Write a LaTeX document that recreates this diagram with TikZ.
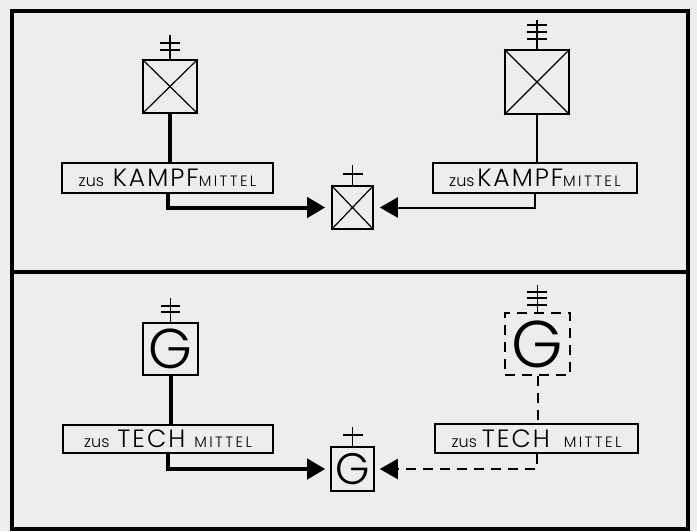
\documentclass[tikz,border=0pt]{standalone}
\usepackage{fontspec}
\setmainfont{Poppins Light}
\usetikzlibrary{arrows.meta}
\newcommand{\lblbig}[1]{{\fontsize{25}{25}\selectfont\addfontfeatures{LetterSpace=8}#1}}
\newcommand{\lblsmall}[1]{{\fontsize{15}{15}\selectfont\addfontfeatures{LetterSpace=16}#1}}
\newcommand{\gbig}[1]{{\fontsize{#1}{#1}\selectfont G}}
\tikzset{
  symbox/.style={draw,line width=1.6pt,inner sep=0pt},
  lblbox/.style={draw,line width=1.4pt,inner sep=0pt,minimum height=30pt,font=\fontsize{16}{16}\selectfont},
  feed/.style={line width=4pt},
  wire/.style={line width=2pt},
  gap/.style={dash pattern=on 10pt off 7pt},
  hit/.style={-{Triangle[length=18pt,width=20pt]}},
  mast/.style={line width=1.6pt},
}

\begin{document}
\begin{tikzpicture}[x=1pt,y=-1pt]
\fill[black!7] (0,0) rectangle (697,531);
% frame
\draw[line width=4.5pt] (12,11) rectangle (688,529);
\draw[line width=4.5pt] (12,272) -- (688,272);

% upper half
\node[symbox,minimum width=54pt,minimum height=53pt] (kampfA) at (170,86.5) {};
\node[symbox,minimum width=64pt,minimum height=64pt] (kampfB) at (537,82) {};
\node[symbox,minimum width=41pt,minimum height=43pt] (kampfC) at (352.5,207.5) {};
\foreach \n in {kampfA,kampfB,kampfC}
  \draw[line width=1.2pt] (\n.north west) -- (\n.south east) (\n.north east) -- (\n.south west);
\draw[mast] (kampfA.north) -- (170,35) (160,43) -- (180,43) (160,50) -- (180,50);
\draw[mast] (kampfB.north) -- (537,20) (527,25) -- (547,25) (527,32) -- (547,32) (527,39) -- (547,39);
\draw[mast] (kampfC.north) -- (352.5,165) (343,174) -- (363,174);

\node[lblbox,minimum width=211pt] (lblA) at (167.5,178) {zus\ \ \lblbig{KAMPF}\lblsmall{MITTEL}};
\node[lblbox,minimum width=204pt] (lblB) at (535,178) {zus\,\lblbig{KAMPF}\lblsmall{MITTEL}};

\draw[feed] (kampfA.south) -- (kampfA.south |- lblA.north);
\draw[wire] (kampfB.south) -- (kampfB.south |- lblB.north);
\draw[feed,hit,shorten >=6pt] (lblA.south) |- (kampfC.west);
\draw[wire,hit,shorten >=6pt] (lblB.south) |- (kampfC.east);

% lower half
\node[symbox,minimum width=55pt,minimum height=52pt] (techA) at (170.5,349) {\gbig{56}};
\node[symbox,gap,minimum width=65pt,minimum height=62pt] (techB) at (537.5,344) {\gbig{66}};
\node[symbox,minimum width=43pt,minimum height=44pt] (techC) at (352.5,469) {\gbig{44}};
\draw[mast] (techA.north) -- (170.5,298) (161,306) -- (180,306) (161,312) -- (180,312);
\draw[mast] (techB.north) -- (537.5,285) (527,292) -- (547,292) (527,298) -- (547,298) (527,305) -- (547,305);
\draw[mast] (techC.north) -- (352.5,427) (343,435) -- (363,435);

\node[lblbox,minimum width=210pt,minimum height=28pt] (lblC) at (168,439) {zus\hspace{8pt}\lblbig{TECH}\hspace{9pt}\lblsmall{MITTEL}};
\node[lblbox,minimum width=203pt,minimum height=29pt] (lblD) at (536.5,438.5) {zus\hspace{5pt}\lblbig{TECH}\hspace{14pt}\lblsmall{MITTEL}};

\draw[feed] (techA.south) -- (techA.south |- lblC.north);
\draw[wire,gap] (techB.south) -- (techB.south |- lblD.north);
\draw[feed,hit,shorten >=5pt] (lblC.south) |- (techC.west);
\draw[wire,gap,hit,shorten >=5pt] (lblD.south) |- (techC.east);

\path (0,0) rectangle (697,531);
\end{tikzpicture}
\end{document}
